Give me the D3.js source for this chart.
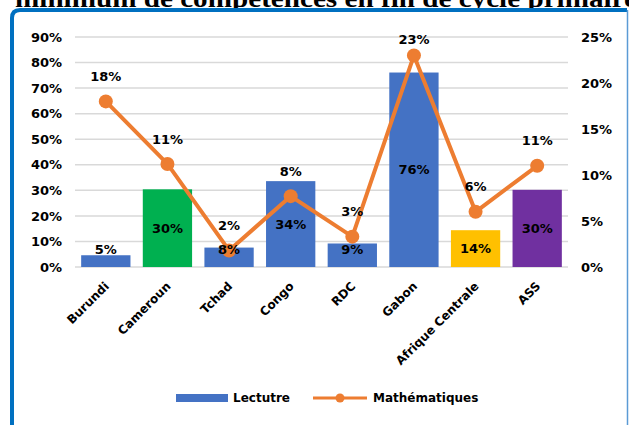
<!DOCTYPE html>
<html>
<head>
<meta charset="utf-8">
<script src="https://cdn.jsdelivr.net/npm/d3@7"></script>
<style>
  html, body { margin: 0; padding: 0; background: #fff; }
  svg { display: block; }
  text { font-family: "DejaVu Sans", Verdana, sans-serif; font-weight: bold; fill: #000; }
</style>
</head>
<body>
<script>
// ---- Data ----
const titleText = "minimum de compétences en fin de cycle primaire";
const categories = ["Burundi", "Cameroun", "Tchad", "Congo", "RDC", "Gabon", "Afrique Centrale", "ASS"];
const lecture = [4.6, 30.4, 7.6, 33.6, 9.2, 76.1, 14.4, 30.2];
const maths = [18.0, 11.2, 1.8, 7.7, 3.3, 23.0, 6.0, 11.0];
const barColors = ["#4472C4", "#00B050", "#4472C4", "#4472C4", "#4472C4", "#4472C4", "#FFC000", "#7030A0"];
const leftTicks = [0, 10, 20, 30, 40, 50, 60, 70, 80, 90];
const rightTicks = [0, 5, 10, 15, 20, 25];
const seriesNames = ["Lectutre", "Mathématiques"];

// ---- Layout ----
const W = 629, H = 425;
const plot = { left: 75, right: 568, top: 37, bottom: 267 };
const svg = d3.select("body").append("svg").attr("width", W).attr("height", H);

const x = d3.scaleBand().domain(categories).range([plot.left, plot.right]).paddingInner(0.2).paddingOuter(0.1);
const yL = d3.scaleLinear().domain([0, 90]).range([plot.bottom, plot.top]);
const yR = d3.scaleLinear().domain([0, 25]).range([plot.bottom, plot.top]);
const pct = v => d3.format(".0f")(v) + "%";

// Title (cropped at top)
svg.append("text").attr("x", 15).attr("y", 7)
  .attr("textLength", 622).attr("lengthAdjust", "spacingAndGlyphs")
  .style("font-family", "'Liberation Serif', 'DejaVu Serif', serif")
  .style("font-size", "26px").text(titleText);

// Frame
svg.append("rect").attr("x", 12).attr("y", 10).attr("width", 616).attr("height", H).attr("fill", "#fff");
svg.append("path").attr("d", `M12,${H} L12,18 Q12,10 20,10 L627,10`)
  .attr("fill", "none").attr("stroke", "#0070C0").attr("stroke-width", 4);
svg.append("line").attr("x1", 627.5).attr("x2", 627.5).attr("y1", 10).attr("y2", H)
  .attr("stroke", "#5B9BD5").attr("stroke-width", 1.5);

// Gridlines
svg.append("g").selectAll("line").data(leftTicks).join("line")
  .attr("x1", plot.left).attr("x2", plot.right)
  .attr("y1", d => yL(d)).attr("y2", d => yL(d))
  .attr("stroke", "#D9D9D9").attr("stroke-width", 1.5);

// Left axis
const axL = d3.axisLeft(yL).tickValues(leftTicks).tickFormat(d => d + "%").tickSize(0).tickPadding(0);
const gL = svg.append("g").attr("transform", `translate(62,0)`).call(axL);
gL.select(".domain").remove();
gL.selectAll("text").style("font-size", "13px").style("font-family", "'DejaVu Sans', sans-serif").attr("fill", "#000");

// Right axis
const axR = d3.axisRight(yR).tickValues(rightTicks).tickFormat(d => d + "%").tickSize(0).tickPadding(0);
const gR = svg.append("g").attr("transform", `translate(581,0)`).call(axR);
gR.select(".domain").remove();
gR.selectAll("text").style("font-size", "13px").style("font-family", "'DejaVu Sans', sans-serif").attr("fill", "#000");

// Bars
svg.append("g").selectAll("rect").data(categories).join("rect")
  .attr("x", d => x(d)).attr("width", x.bandwidth())
  .attr("y", (d, i) => yL(lecture[i])).attr("height", (d, i) => yL(0) - yL(lecture[i]))
  .attr("fill", (d, i) => barColors[i]);

// X axis (category labels)
const axX = d3.axisBottom(x).tickSize(0).tickPadding(0);
const gX = svg.append("g").attr("transform", `translate(0,${plot.bottom})`).call(axX);
gX.select(".domain").remove();
gX.selectAll("text")
  .style("font-size", "12px").style("font-family", "'DejaVu Sans', sans-serif").attr("fill", "#000")
  .attr("text-anchor", "end").attr("dy", 0).attr("y", 0)
  .attr("transform", "translate(4,20) rotate(-45)");

// Line
const cx = d => x(d) + x.bandwidth() / 2;
const line = d3.line().x((d, i) => cx(categories[i])).y(d => yR(d));
svg.append("path").datum(maths).attr("d", line)
  .attr("fill", "none").attr("stroke", "#ED7D31").attr("stroke-width", 4).attr("stroke-linejoin", "round");
svg.append("g").selectAll("circle").data(maths).join("circle")
  .attr("cx", (d, i) => cx(categories[i])).attr("cy", d => yR(d)).attr("r", 7)
  .attr("fill", "#ED7D31");

// Bar labels
svg.append("g").selectAll("text").data(lecture).join("text")
  .attr("x", (d, i) => cx(categories[i]))
  .attr("y", d => Math.min((yL(d) + yL(0)) / 2, yL(0) - 18))
  .attr("dy", "0.36em").attr("text-anchor", "middle").style("font-size", "13px")
  .text(d => pct(d));

// Line labels
svg.append("g").selectAll("text").data(maths).join("text")
  .attr("x", (d, i) => cx(categories[i]))
  .attr("y", d => Math.max(yR(d) - 25, plot.top + 2))
  .attr("dy", "0.36em").attr("text-anchor", "middle").style("font-size", "13px")
  .text(d => pct(d));

// Legend
const ly = 398;
const lg = svg.append("g");
lg.append("rect").attr("x", 176).attr("y", ly - 4).attr("width", 52).attr("height", 8).attr("fill", "#4472C4");
lg.append("text").attr("x", 233).attr("y", ly).attr("dy", "0.36em").style("font-size", "12px").text(seriesNames[0]);
lg.append("line").attr("x1", 313).attr("x2", 367).attr("y1", ly).attr("y2", ly)
  .attr("stroke", "#ED7D31").attr("stroke-width", 3);
lg.append("circle").attr("cx", 340).attr("cy", ly).attr("r", 4.5).attr("fill", "#ED7D31");
lg.append("text").attr("x", 373).attr("y", ly).attr("dy", "0.36em").style("font-size", "12px").text(seriesNames[1]);
</script>
</body>
</html>
